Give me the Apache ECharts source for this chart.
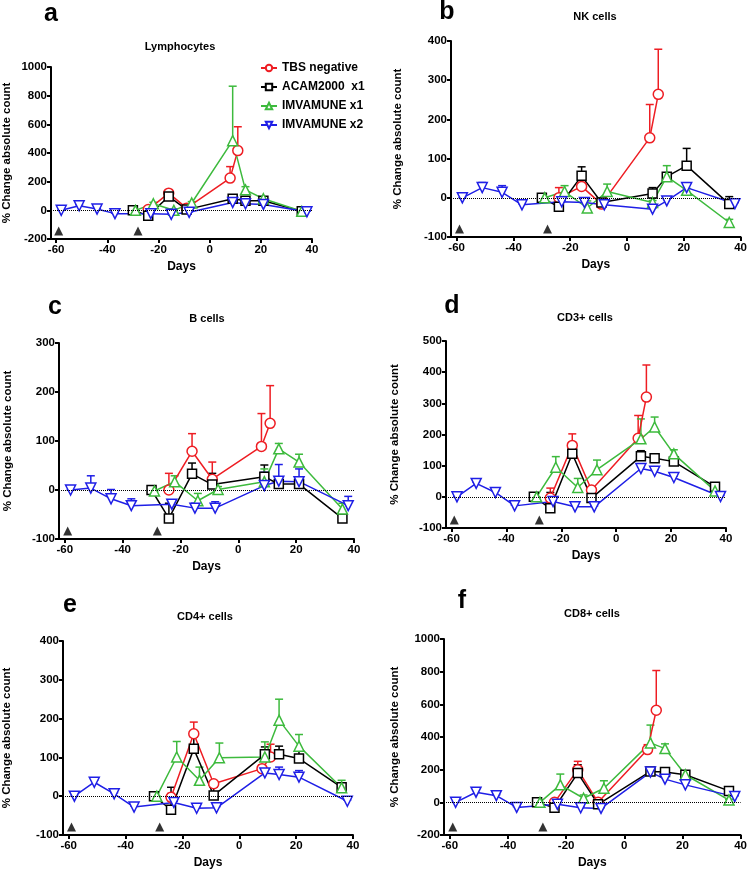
<!DOCTYPE html>
<html>
<head>
<meta charset="utf-8">
<script src="https://cdn.jsdelivr.net/npm/echarts@6/dist/echarts.min.js"></script>
<style>
  html, body { margin: 0; background: #fff; }
  #chart { width: 750px; height: 871px; }
</style>
</head>
<body>
<div id="chart"></div>
<script>
// sampling days of each group (days relative to challenge)
const tbsDays = [-24, -16, -9, 8, 11];
const acamDays = [-30, -24, -16, -9, 9, 14, 21, 36];
const imv1Days = [-29, -22, -14, -7, 9, 14, 21, 36];
const imv2Days = [-58, -51, -44, -37, -23, -15, -8, 9, 14, 21, 38];
const doseDays = [-59, -28];
const xTicks = [-60, -40, -20, 0, 20, 40];

// a - Lymphocytes
const lymTbs = [5, 120, 15, 225, 417];
const lymTbsErr = [15, 12, 10, 80, 166];
const lymAcam = [0, -37, 97, 5, 81, 67, 67, -7];
const lymAcamErr = [0, 8, 12, 8, 12, 8, 8, 4];
const lymImv1 = [0, 46, 0, 51, 486, 143, 81, -7];
const lymImv1Err = [0, 10, 8, 10, 380, 22, 10, 4];
const lymImv2 = [0, 32, 9, -23, -23, -28, -14, 55, 46, 41, -10];
const lymImv2Err = [0, 8, 5, 4, 4, 4, 4, 8, 8, 8, 4];

// b - NK cells
const nkTbs = [0, 29, -16, 153, 264];
const nkTbsErr = [26, 10, 5, 85, 115];
const nkAcam = [0, -23, 56, -12, 11, 54, 82, -16];
const nkAcamErr = [0, 5, 23, 5, 15, 5, 44, 19];
const nkImv1 = [0, 16, -26, 16, -12, 54, 19, -63];
const nkImv1Err = [0, 15, 18, 19, 5, 28, 5, 8];
const nkImv2 = [0, 26, 14, -18, -10, -12, -18, -29, -8, 26, -15];
const nkImv2Err = [0, 13, 17, 3, 3, 6, 6, 3, 9, 11, 3];

// c - B cells
const bTbs = [0, 79, 22, 89, 136];
const bTbsErr = [34, 36, 35, 67, 77];
const bAcam = [0, -58, 33, 11, 27, 12, 12, -58];
const bAcamErr = [0, 31, 22, 23, 24, 9, 11, 0];
const bImv1 = [-2, 17, -22, 1, 17, 84, 57, -39];
const bImv1Err = [0, 12, 15, 6, 26, 11, 16, 12];
const bImv2 = [0, 4, -18, -32, -29, -37, -37, 9, 18, 17, -32];
const bImv2Err = [0, 25, 19, 14, 8, 10, 13, 27, 34, 26, 19];

// d - CD3+ cells
const cd3Tbs = [-4, 165, 22, 188, 320];
const cd3TbsErr = [32, 37, 10, 73, 103];
const cd3Acam = [0, -37, 138, -4, 130, 124, 113, 32];
const cd3AcamErr = [0, 51, 27, 5, 18, 8, 9, 5];
const cd3Imv1 = [0, 95, 30, 87, 186, 224, 138, 19];
const cd3Imv1Err = [0, 34, 29, 31, 64, 32, 13, 5];
const cd3Imv2 = [0, 43, 14, -29, -15, -32, -32, 91, 82, 62, 1];
const cd3Imv2Err = [0, 5, 5, 3, 3, 3, 3, 5, 5, 5, 3];

// e - CD4+ cells
const cd4Tbs = [-3, 161, 32, 71, 101];
const cd4TbsErr = [10, 30, 5, 10, 33];
const cd4Acam = [0, -35, 122, 2, 108, 108, 97, 23];
const cd4AcamErr = [0, 58, 31, 21, 19, 21, 19, 5];
const cd4Imv1 = [0, 101, 41, 99, 101, 196, 129, 22];
const cd4Imv1Err = [0, 40, 34, 38, 39, 54, 30, 19];
const cd4Imv2 = [0, 36, 6, -28, -16, -31, -30, 60, 56, 49, -13];
const cd4Imv2Err = [0, 5, 3, 3, 3, 3, 3, 9, 19, 17, 3];

// f - CD8+ cells
const cd8Tbs = [0, 200, 0, 323, 564];
const cd8TbsErr = [10, 51, 10, 30, 243];
const cd8Acam = [0, -33, 179, -12, 189, 185, 169, 70];
const cd8AcamErr = [0, 47, 51, 10, 10, 10, 10, 5];
const cd8Imv1 = [0, 107, 25, 86, 364, 329, 169, 14];
const cd8Imv1Err = [0, 66, 20, 46, 109, 29, 10, 5];
const cd8Imv2 = [0, 62, 41, -31, -12, -33, -37, 185, 142, 107, 35];
const cd8Imv2Err = [0, 24, 5, 5, 5, 5, 5, 15, 10, 10, 5];

const FONT = '"Liberation Sans", Arial, sans-serif';
const RED = '#ee1d23';
const GREEN = '#3dba3d';
const BLUE = '#1f1fe6';

const groups = [
    { name: 'TBS negative', color: RED, symbol: 'circle', rotate: 0, days: tbsDays },
    { name: 'ACAM2000  x1', color: '#000', symbol: 'rect', rotate: 0, days: acamDays },
    { name: 'IMVAMUNE x1', color: GREEN, symbol: 'triangle', rotate: 0, days: imv1Days },
    { name: 'IMVAMUNE x2', color: BLUE, symbol: 'triangle', rotate: 180, days: imv2Days },
]

const panels = [
    { letter: 'a', title: 'Lymphocytes', yMin: -200, yMax: 1000, yStep: 200,
      vals: [lymTbs, lymAcam, lymImv1, lymImv2], errs: [lymTbsErr, lymAcamErr, lymImv1Err, lymImv2Err] },
    { letter: 'b', title: 'NK cells', yMin: -100, yMax: 400, yStep: 100,
      vals: [nkTbs, nkAcam, nkImv1, nkImv2], errs: [nkTbsErr, nkAcamErr, nkImv1Err, nkImv2Err] },
    { letter: 'c', title: 'B cells', yMin: -100, yMax: 300, yStep: 100,
      vals: [bTbs, bAcam, bImv1, bImv2], errs: [bTbsErr, bAcamErr, bImv1Err, bImv2Err] },
    { letter: 'd', title: 'CD3+ cells', yMin: -100, yMax: 500, yStep: 100,
      vals: [cd3Tbs, cd3Acam, cd3Imv1, cd3Imv2], errs: [cd3TbsErr, cd3AcamErr, cd3Imv1Err, cd3Imv2Err] },
    { letter: 'e', title: 'CD4+ cells', yMin: -100, yMax: 400, yStep: 100,
      vals: [cd4Tbs, cd4Acam, cd4Imv1, cd4Imv2], errs: [cd4TbsErr, cd4AcamErr, cd4Imv1Err, cd4Imv2Err] },
    { letter: 'f', title: 'CD8+ cells', yMin: -200, yMax: 1000, yStep: 200,
      vals: [cd8Tbs, cd8Acam, cd8Imv1, cd8Imv2], errs: [cd8TbsErr, cd8AcamErr, cd8Imv1Err, cd8Imv2Err] },
]

// where each panel sits on the page
const layout = [
    { left: 50, top: 67, width: 262, height: 172, nameGap: 38, letterX: 51, letterY: 14, titleX: 180, titleY: 47 },
    { left: 451, top: 41, width: 291, height: 196, nameGap: 47, letterX: 447, letterY: 12, titleX: 595, titleY: 17 },
    { left: 59, top: 343, width: 295, height: 196, nameGap: 45, letterX: 55, letterY: 307, titleX: 207, titleY: 319 },
    { left: 446, top: 341, width: 280, height: 187, nameGap: 45, letterX: 452, letterY: 306, titleX: 585, titleY: 318 },
    { left: 61, top: 641, width: 292, height: 194, nameGap: 50, letterX: 70, letterY: 605, titleX: 205, titleY: 617 },
    { left: 444, top: 639, width: 298, height: 196, nameGap: 43, letterX: 462, letterY: 601, titleX: 592, titleY: 614 },
]

const axisLine = { show: true, onZero: false, lineStyle: { color: '#000', width: 2 } }
const axisTick = { show: true, length: 4, lineStyle: { color: '#000', width: 2 } }
const labelStyle = { color: '#000', fontFamily: FONT, fontWeight: 'bold', fontSize: 11.5 }

const chart = echarts.init(document.getElementById('chart'))
const grid = [], xAxis = [], yAxis = [], series = [], graphic = []

const errorBar = (color) => (params, api) => {
    const p0 = api.coord([api.value(0), api.value(1)])
    const p1 = api.coord([api.value(0), api.value(1) + api.value(2)])
    const st = { stroke: color, lineWidth: 1.5 }
    return {
        type: 'group',
        children: [
            { type: 'line', shape: { x1: p0[0], y1: p0[1], x2: p1[0], y2: p1[1] }, style: st },
            { type: 'line', shape: { x1: p1[0] - 4, y1: p1[1], x2: p1[0] + 4, y2: p1[1] }, style: st },
        ],
    }
}

panels.forEach((p, i) => {
    const L = layout[i]
    grid.push({ left: L.left, top: L.top, width: L.width, height: L.height })
    xAxis.push({
        gridIndex: i, type: 'value', min: -62, max: 40,
        name: 'Days', nameLocation: 'middle', nameGap: 22,
        nameTextStyle: { ...labelStyle, fontSize: 12 },
        axisLine, axisTick: { ...axisTick, customValues: xTicks },
        axisLabel: { ...labelStyle, margin: 5, customValues: xTicks },
        splitLine: { show: false },
    })
    yAxis.push({
        gridIndex: i, type: 'value', min: p.yMin, max: p.yMax, interval: p.yStep,
        name: '% Change absolute count', nameLocation: 'middle', nameGap: L.nameGap,
        nameTextStyle: { ...labelStyle, fontSize: 11.5 },
        axisLine, axisTick,
        axisLabel: { ...labelStyle, margin: 4, formatter: v => String(v) },
        splitLine: { show: false },
    })
    graphic.push({
        type: 'text', x: L.letterX, y: L.letterY, silent: true,
        style: { text: p.letter, font: 'bold 25px ' + FONT, fill: '#000', textAlign: 'center', textVerticalAlign: 'middle' },
    })
    graphic.push({
        type: 'text', x: L.titleX, y: L.titleY, silent: true,
        style: { text: p.title, font: 'bold 11px ' + FONT, fill: '#000', textAlign: 'center', textVerticalAlign: 'middle' },
    })

    groups.forEach((g, k) => {
        const pts = g.days.map((d, j) => [d, p.vals[k][j], p.errs[k][j]])
        series.push({
            type: 'custom', xAxisIndex: i, yAxisIndex: i, silent: true, z: 1,
            renderItem: errorBar(g.color),
            data: pts,
        })
    })
    groups.forEach((g, k) => {
        series.push({
            type: 'line', name: g.name, xAxisIndex: i, yAxisIndex: i, z: 3,
            data: g.days.map((d, j) => [d, p.vals[k][j]]),
            symbol: g.symbol, symbolSize: g.symbol === 'rect' ? 9 : 10, symbolRotate: g.rotate,
            showAllSymbol: true,
            itemStyle: { color: '#fff', borderColor: g.color, borderWidth: 1.5 },
            lineStyle: { color: g.color, width: 1.5 },
            markLine: k === 0 ? {
                silent: true, symbol: 'none', label: { show: false },
                lineStyle: { color: '#000', type: 'dotted', width: 1 },
                data: [{ yAxis: 0 }],
            } : undefined,
        })
    })
    // vaccination days
    series.push({
        type: 'scatter', xAxisIndex: i, yAxisIndex: i, silent: true, z: 4,
        data: doseDays.map(d => [d, p.yMin]),
        symbol: 'triangle', symbolSize: [9, 9], symbolOffset: [0, -8],
        itemStyle: { color: '#000' },
    })
})

chart.setOption({
    animation: false,
    backgroundColor: '#fff',
    grid, xAxis, yAxis, series, graphic,
    legend: {
        data: groups.map(g => g.name),
        orient: 'vertical', left: 260, top: 62, padding: 0,
        itemWidth: 16, itemHeight: 8, itemGap: 7,
        textStyle: { color: '#000', fontFamily: FONT, fontWeight: 'bold', fontSize: 12 },
    },
})
</script>
</body>
</html>
